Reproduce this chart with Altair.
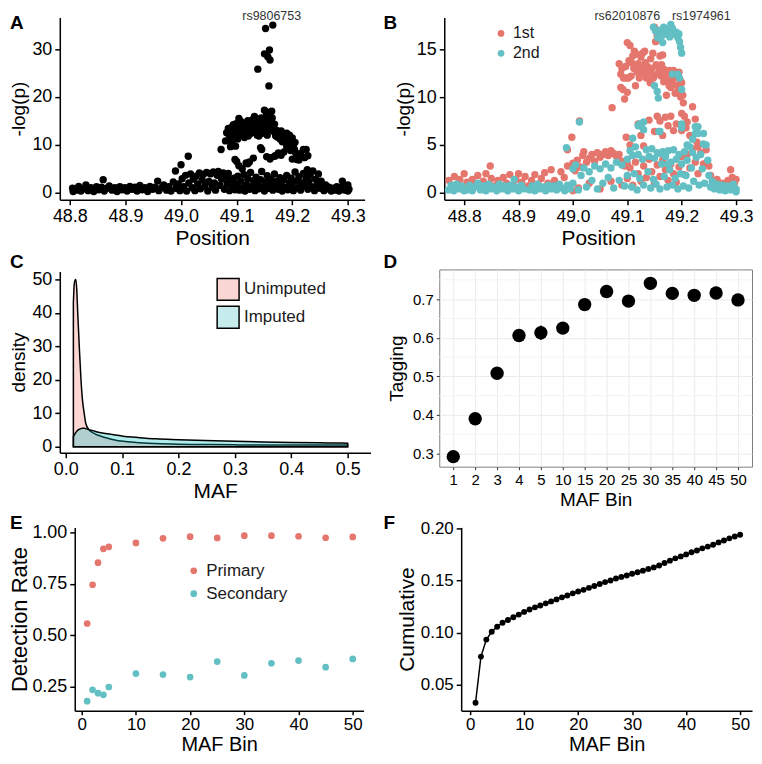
import altair as alt
import pandas as pd

FONT = "Liberation Sans"
RED = "#E5766D"
CYAN = "#62BFC3"

# ---------------- Panel A data: (position, -log(p)) ----------------
a_left = [(48.805,0.9),(48.806,0.2),(48.811,0.5),(48.816,1.3),(48.820,0.3),(48.825,0.8),(48.829,1.6),(48.833,0.4),(48.838,1.0),(48.843,0.2),(48.848,1.2),(48.852,0.6),(48.857,1.1),(48.860,2.7),(48.862,0.3),(48.867,0.9),(48.871,1.4),(48.876,0.5),(48.881,1.0),(48.885,0.2),(48.890,1.2),(48.894,0.6),(48.899,1.0),(48.903,0.3),(48.908,1.3),(48.912,0.7),(48.917,1.1),(48.921,0.3),(48.926,1.5),(48.930,0.6),(48.935,1.0),(48.940,0.2),(48.944,1.3),(48.949,0.7),(48.953,1.1),(48.958,2.4),(48.960,0.4),(48.965,1.0),(48.969,1.6),(48.974,0.5),(48.978,1.2),(48.982,0.3),(48.986,2.2),(48.990,4.5),(48.991,0.9),(48.995,1.8),(48.998,0.4),(49.000,5.8),(49.002,2.9),(49.005,1.2),(49.008,3.6),(49.010,0.3),(49.013,7.6),(49.014,2.0),(49.017,3.9),(49.020,1.0),(49.022,2.8),(49.025,0.4),(49.027,3.4),(49.030,1.8),(49.033,4.1),(49.035,0.8),(49.038,2.6),(49.040,3.8),(49.043,1.4),(49.046,4.2),(49.048,0.3),(49.050,2.3),(49.053,3.9),(49.056,1.1),(49.058,4.3),(49.060,2.0),(49.062,0.5),(49.065,3.6),(49.067,4.4),(49.070,1.5),(49.072,9.0),(49.073,2.8),(49.076,4.1),(49.078,0.7),(49.080,3.3),(49.083,1.9),(49.085,4.0),(49.087,0.4),(49.090,2.6),(49.092,1.2),(49.095,3.0),(49.097,0.6)]
a_right = [(49.100,1.8),(49.102,3.4),(49.105,0.5),(49.108,2.4),(49.110,1.0),(49.113,3.8),(49.115,0.3),(49.118,1.6),(49.120,2.9),(49.123,0.7),(49.125,4.2),(49.128,1.3),(49.130,2.5),(49.133,0.4),(49.135,3.2),(49.138,1.9),(49.140,0.8),(49.143,2.7),(49.145,4.4),(49.148,1.2),(49.150,0.3),(49.152,2.2),(49.155,3.5),(49.158,0.9),(49.160,1.7),(49.162,2.8),(49.165,0.5),(49.168,3.9),(49.170,1.4),(49.172,2.3),(49.175,0.7),(49.178,3.1),(49.180,1.8),(49.182,0.3),(49.185,2.6),(49.188,1.0),(49.190,3.6),(49.192,0.6),(49.195,2.0),(49.198,3.0),(49.200,1.3),(49.202,0.4),(49.205,4.3),(49.207,2.4),(49.210,1.0),(49.212,3.3),(49.215,0.5),(49.217,2.0),(49.220,4.0),(49.222,1.5),(49.225,3.0),(49.227,4.8),(49.228,0.7),(49.230,2.3),(49.232,3.6),(49.235,1.2),(49.237,4.5),(49.240,0.4),(49.242,2.8),(49.245,1.7),(49.247,3.9),(49.250,0.9),(49.252,2.4),(49.255,1.3),(49.257,0.4),(49.260,1.6),(49.263,0.8),(49.266,1.1),(49.270,0.3),(49.273,0.9),(49.277,0.5),(49.280,1.2),(49.284,0.3),(49.288,0.8),(49.290,2.4),(49.291,1.4),(49.295,0.5),(49.298,1.0),(49.300,0.3),(49.300,1.6),(49.302,0.7)]
a_peak = [(49.080,10.8),(49.082,12.5),(49.085,13.4),(49.088,11.0),(49.090,12.8),(49.092,10.3),(49.094,14.2),(49.096,11.7),(49.098,9.7),(49.100,13.0),(49.100,6.5),(49.102,11.2),(49.104,15.5),(49.106,13.8),(49.108,12.0),(49.110,14.6),(49.110,5.0),(49.112,13.2),(49.114,11.5),(49.116,14.0),(49.118,12.8),(49.120,15.0),(49.120,6.0),(49.122,13.5),(49.124,14.5),(49.126,12.4),(49.128,15.2),(49.130,13.6),(49.130,7.2),(49.132,15.9),(49.134,12.9),(49.136,14.8),(49.138,13.3),(49.138,25.8),(49.140,11.8),(49.142,14.2),(49.144,15.6),(49.145,9.0),(49.146,12.4),(49.148,13.9),(49.150,17.2),(49.150,29.0),(49.152,34.3),(49.152,15.3),(49.154,16.3),(49.155,12.0),(49.156,28.4),(49.157,15.0),(49.158,22.3),(49.158,14.0),(49.159,29.8),(49.160,27.7),(49.160,16.8),(49.160,7.0),(49.162,13.2),(49.163,17.0),(49.164,15.6),(49.165,35.0),(49.166,12.8),(49.168,14.3),(49.170,11.9),(49.170,7.7),(49.172,13.0),(49.175,12.5),(49.175,8.3),(49.178,11.2),(49.180,12.9),(49.180,7.8),(49.182,10.6),(49.185,12.2),(49.187,11.7),(49.190,12.4),(49.190,9.6),(49.192,10.8),(49.195,12.0),(49.197,8.8),(49.200,11.4),(49.200,7.0),(49.202,10.0),(49.204,9.0),(49.206,8.3),(49.208,6.9),(49.210,7.5),(49.220,9.0),(49.222,7.3),(49.225,9.0),(49.228,7.7),(49.097,6.9),(49.104,5.6),(49.117,6.2),(49.123,6.4),(49.143,9.4),(49.154,7.5),(49.161,7.3),(49.168,7.6),
(49.087,12.0),(49.091,13.6),(49.095,12.6),(49.099,14.4),(49.103,12.6),(49.107,14.9),(49.111,12.2),(49.115,13.0),(49.119,14.2),(49.121,11.8),(49.125,13.0),(49.129,14.0),(49.133,14.2),(49.137,12.0),(49.141,13.3),(49.145,14.6),(49.149,12.8),(49.153,13.0),(49.157,13.4),(49.161,14.6),(49.165,13.8),(49.169,12.6),(49.173,11.6),(49.177,12.0),(49.181,11.8),(49.186,11.0),(49.191,11.6),(49.196,10.6),(49.201,9.6),(49.205,10.5),(49.089,9.6),(49.093,11.8),(49.185,8.5),(49.212,6.8),(49.215,8.2)]
a_label = ("rs9806753", 49.163, 36.05)

# ---------------- Panel B data ----------------
b_first = [(48.772,1.3),(48.777,0.6),(48.782,1.7),(48.787,0.9),(48.792,1.4),(48.797,0.4),(48.800,2.0),
(48.805,1.1),(48.810,0.5),(48.815,1.4),(48.820,0.8),(48.825,1.8),(48.830,0.6),(48.835,1.2),(48.840,2.0),(48.845,0.9),(48.848,2.8),(48.850,1.5),(48.855,0.7),(48.862,1.3),(48.868,0.6),(48.872,1.6),(48.878,1.0),(48.884,1.9),(48.890,0.8),(48.895,1.4),(48.900,2.0),(48.906,1.1),(48.912,1.7),(48.918,0.7),(48.924,1.3),(48.930,1.9),(48.936,0.9),(48.942,1.5),(48.948,2.1),(48.954,1.0),(48.960,2.4),(48.966,1.3),(48.972,0.7),(48.978,2.2),(48.984,1.6),(48.990,2.8),(48.990,4.5),(48.998,5.8),(49.000,3.1),(49.000,0.2),(49.004,2.3),(49.008,3.4),(49.010,0.5),(49.012,7.5),(49.014,2.7),(49.018,3.9),(49.020,4.3),(49.025,3.2),(49.030,3.6),(49.030,1.0),(49.035,4.0),(49.040,3.3),(49.045,4.2),(49.050,3.7),(49.050,0.4),(49.055,4.0),(49.060,4.3),(49.065,3.9),(49.070,4.4),(49.070,1.2),(49.072,8.9),(49.075,4.1),(49.080,3.8),(49.085,4.0),(49.090,3.3),(49.090,0.8),(49.095,2.8),(49.100,3.0),
(49.085,13.5),(49.088,11.0),(49.090,13.0),(49.092,10.8),(49.095,9.8),(49.098,12.0),(49.100,15.7),(49.100,10.5),(49.103,13.8),(49.105,15.4),(49.107,12.2),(49.110,14.3),(49.112,13.0),(49.115,11.2),(49.117,14.5),(49.120,13.5),(49.122,12.0),(49.125,14.2),(49.127,13.0),(49.130,12.5),(49.132,14.8),(49.135,12.0),(49.137,13.2),(49.140,12.6),(49.142,11.5),(49.145,13.0),(49.147,14.6),(49.150,17.3),(49.150,12.3),(49.152,15.8),(49.155,16.4),(49.157,12.5),(49.160,14.3),(49.162,12.2),(49.165,14.4),(49.167,11.6),(49.170,12.4),(49.172,10.2),(49.175,11.8),(49.178,12.8),(49.180,11.0),(49.182,12.0),(49.185,12.8),(49.188,10.4),(49.190,12.1),(49.192,11.2),(49.195,12.6),(49.198,10.0),(49.200,11.5),(49.200,8.3),(49.203,9.4),(49.205,8.0),(49.208,6.8),(49.210,7.4),(49.215,6.0),(49.220,9.0),(49.225,7.7),(49.228,5.3),(49.230,4.8),
(49.088,12.4),(49.093,12.0),(49.097,13.2),(49.102,12.0),(49.108,13.6),(49.113,14.8),(49.118,12.6),(49.123,13.0),(49.128,14.6),(49.133,13.6),(49.138,12.6),(49.143,14.0),(49.148,12.0),(49.153,13.4),(49.158,13.0),(49.163,13.4),(49.168,12.9),(49.173,12.0),(49.177,11.2),(49.183,11.4),(49.187,12.0),(49.193,10.6),(49.197,11.8),(49.202,10.2),
(49.098,5.8),(49.105,5.0),(49.120,7.2),(49.125,6.0),(49.130,4.9),(49.140,7.6),(49.150,6.4),(49.155,8.0),(49.160,7.5),(49.165,6.0),(49.170,7.9),(49.175,7.0),(49.180,8.0),(49.185,6.5),(49.190,7.2),(49.200,6.5),
(49.100,1.5),(49.105,2.6),(49.110,0.8),(49.115,3.2),(49.120,2.0),(49.125,1.2),(49.130,2.8),(49.135,1.6),(49.140,3.5),(49.145,2.2),(49.150,1.0),(49.155,2.9),(49.160,1.7),(49.165,3.4),(49.170,2.4),(49.175,1.3),(49.180,3.0),(49.185,2.0),(49.190,1.1),(49.195,2.7),(49.200,3.8),(49.205,1.9),(49.210,4.0),(49.215,2.6),(49.220,4.6),(49.225,3.2),(49.230,2.0),(49.235,4.2),(49.240,3.0),(49.245,4.5),(49.250,2.8),(49.253,1.8),(49.257,1.2),(49.260,0.9),(49.265,1.4),(49.270,0.6),(49.275,1.0),(49.280,0.5),(49.285,1.3),(49.290,2.4),(49.293,1.6),(49.297,1.0),(49.300,1.4)]
b_second = [(48.771,0.3),(48.776,0.8),(48.781,0.2),(48.786,0.9),(48.791,0.4),(48.796,0.7),(48.800,0.2),
(48.805,0.3),(48.810,0.8),(48.815,0.2),(48.820,0.6),(48.825,1.0),(48.830,0.3),(48.835,0.7),(48.840,0.2),(48.845,0.9),(48.850,0.4),(48.855,0.6),(48.860,0.2),(48.865,0.9),(48.870,0.4),(48.875,0.7),(48.880,0.2),(48.885,0.8),(48.890,0.4),(48.892,1.4),(48.895,0.6),(48.900,0.2),(48.905,0.8),(48.910,0.4),(48.920,0.3),(48.925,0.7),(48.930,0.2),(48.935,0.9),(48.940,0.4),(48.945,0.6),(48.950,0.2),(48.955,0.8),(48.960,0.4),(48.965,0.7),(48.970,0.3),(48.975,0.9),(48.980,0.5),(48.985,0.2),(48.988,4.7),(48.990,0.8),(48.995,0.4),(49.000,2.5),(49.000,1.0),(49.005,2.9),(49.010,0.3),(49.012,7.4),(49.015,1.8),(49.020,2.6),(49.025,0.6),(49.030,2.2),(49.035,1.3),(49.040,2.8),(49.045,0.4),(49.050,2.5),(49.055,1.0),(49.060,3.0),(49.065,1.6),(49.070,2.6),(49.075,0.5),(49.080,3.2),(49.085,1.3),(49.090,2.9),(49.095,0.7),(49.100,3.5),(49.100,1.8),
(49.105,4.4),(49.108,0.6),(49.110,3.9),(49.110,5.7),(49.113,2.0),(49.115,4.8),(49.118,0.3),(49.120,4.0),(49.123,1.5),(49.125,7.0),(49.128,3.5),(49.130,7.4),(49.130,0.8),(49.135,4.5),(49.138,2.2),(49.140,3.8),(49.143,0.5),(49.145,4.6),(49.148,1.4),(49.150,3.6),(49.153,0.9),(49.155,4.2),(49.158,6.4),(49.160,0.4),(49.163,3.0),(49.165,4.3),(49.168,1.7),(49.170,3.8),(49.173,0.6),(49.175,4.4),(49.178,2.4),(49.180,3.2),(49.183,0.8),(49.185,4.5),(49.188,1.5),(49.190,3.5),(49.193,0.4),(49.195,4.0),(49.198,2.0),(49.200,7.2),(49.200,3.0),(49.203,0.7),(49.205,4.3),(49.208,1.8),(49.210,3.4),(49.213,0.5),(49.215,4.8),(49.218,2.6),(49.220,4.2),(49.222,1.2),(49.225,6.2),(49.227,3.7),(49.230,6.9),(49.232,0.8),(49.235,4.0),(49.238,2.5),(49.240,6.2),(49.242,1.0),(49.245,5.0),(49.248,3.4),(49.250,1.8),(49.253,0.6),(49.256,1.2),(49.260,0.4),(49.265,0.9),(49.270,0.3),(49.275,0.8),(49.280,0.2),(49.285,0.7),(49.290,0.3),(49.295,0.9),(49.300,0.4),(49.300,0.1),
(49.148,17.3),(49.152,16.9),(49.156,16.2),(49.160,17.0),(49.163,16.4),(49.167,17.3),(49.170,16.6),(49.173,16.9),(49.176,17.1),(49.180,17.6),(49.183,17.2),(49.186,16.6),(49.190,16.8),(49.193,16.2),(49.196,15.8),(49.198,15.2),(49.200,14.6),(49.195,16.6),(49.165,15.7),(49.178,16.3),
(49.150,11.2),(49.155,10.6),(49.157,9.9),(49.183,12.4),(49.193,12.4),(49.200,10.8),(49.196,12.0),(49.120,7.0),(49.123,7.2),(49.130,6.6),(49.160,6.4),(49.200,6.8),(49.225,6.9),(49.230,6.2),(49.240,5.1),(49.160,4.1),(49.170,3.8),(49.175,3.0),(49.210,5.0),(49.220,5.6)]
b_labels = [("rs62010876", 49.100, 18.07), ("rs1974961", 49.236, 18.07)]

# ---------------- Panel C data: density curves ----------------
c_maf = [0.0135, 0.015, 0.0165, 0.018, 0.0195, 0.021, 0.024, 0.0267, 0.0296, 0.0326, 0.0354, 0.041, 0.048, 0.056, 0.065, 0.073, 0.085, 0.102, 0.125, 0.16, 0.2, 0.247, 0.3, 0.35, 0.4, 0.45, 0.49, 0.5]
c_unimputed = [43.0, 48.5, 49.8, 50.0, 47.0, 40.8, 29.9, 20.9, 14.0, 10.1, 7.0, 5.1, 4.2, 3.5, 3.0, 2.6, 2.1, 1.6, 1.25, 0.95, 0.75, 0.65, 0.55, 0.5, 0.5, 0.5, 0.5, 0.5]
c_imputed = [3.0, 3.5, 3.9, 4.3, 4.6, 4.9, 5.2, 5.4, 5.5, 5.5, 5.4, 5.1, 4.8, 4.4, 4.1, 3.9, 3.6, 3.15, 2.8, 2.35, 2.1, 1.85, 1.6, 1.4, 1.25, 1.15, 1.1, 1.05]
c_groups = ["Unimputed", "Imputed"]

# ---------------- Panel D data ----------------
d_bins = ["1", "2", "3", "4", "5", "10", "15", "20", "25", "30", "35", "40", "45", "50"]
d_tag = [0.292, 0.390, 0.508, 0.606, 0.613, 0.625, 0.686, 0.720, 0.695, 0.741, 0.715, 0.710, 0.716, 0.698]
d_lo = [0.287, 0.384, 0.502, 0.598, 0.594, 0.617, 0.680, 0.714, 0.689, 0.735, 0.709, 0.704, 0.710, 0.692]
d_hi = [0.297, 0.396, 0.514, 0.614, 0.632, 0.633, 0.692, 0.726, 0.701, 0.747, 0.721, 0.716, 0.722, 0.704]
d_minor = [0.35, 0.45, 0.55, 0.65, 0.75]

# ---------------- Panel E data ----------------
e_bins = [1, 2, 3, 4, 5, 10, 15, 20, 25, 30, 35, 40, 45, 50]
e_primary = [0.558, 0.746, 0.853, 0.920, 0.930, 0.949, 0.971, 0.979, 0.973, 0.984, 0.984, 0.981, 0.974, 0.978]
e_secondary = [0.181, 0.236, 0.220, 0.212, 0.250, 0.315, 0.310, 0.298, 0.373, 0.306, 0.365, 0.378, 0.346, 0.386]

# ---------------- Panel F data ----------------
f_bins = [1, 2, 3, 4, 5, 6, 7, 8, 9, 10, 11, 12, 13, 14, 15, 16, 17, 18, 19, 20, 21, 22, 23, 24, 25,
          26, 27, 28, 29, 30, 31, 32, 33, 34, 35, 36, 37, 38, 39, 40, 41, 42, 43, 44, 45, 46, 47, 48, 49, 50]
f_cum = [0.0328, 0.0771, 0.0934, 0.1010, 0.1057, 0.1096, 0.1122, 0.1149, 0.1174, 0.1200,
         0.1223, 0.1244, 0.1262, 0.1282, 0.1301, 0.1320, 0.1340, 0.1358, 0.1378, 0.1396,
         0.1412, 0.1431, 0.1449, 0.1468, 0.1486, 0.1502, 0.1520, 0.1536, 0.1550, 0.1566,
         0.1580, 0.1596, 0.1612, 0.1627, 0.1646, 0.1670, 0.1692, 0.1714, 0.1733, 0.1752,
         0.1772, 0.1790, 0.1810, 0.1827, 0.1845, 0.1867, 0.1886, 0.1906, 0.1924, 0.1940]


def ax(title, values, fmt, lab, tit, lpad=3, tpad=4, tick=5, **kw):
    return alt.Axis(title=title, values=values, format=fmt, labelFont=FONT, labelFontSize=lab,
                    labelColor="black", titleFont=FONT, titleFontSize=tit, titleFontWeight="normal",
                    titleColor="black", domainColor="black", domainWidth=1.5, tickColor="black",
                    tickWidth=1.5, tickSize=tick, grid=False, labelPadding=lpad, titlePadding=tpad,
                    labelFlush=False, labelOverlap=False, **kw)


def letter(ch, dx, dy):
    return alt.Chart(pd.DataFrame({"t": [ch]})).mark_text(
        align="left", baseline="top", font=FONT, fontSize=19, fontWeight="bold", color="black"
    ).encode(x=alt.value(dx), y=alt.value(dy), text="t:N")


def leg(x, y, size, font, stype, **kw):
    return alt.Legend(title=None, orient="none", legendX=x, legendY=y, labelFont=FONT,
                      labelFontSize=font, labelColor="#1a1a1a", symbolType=stype, symbolSize=size,
                      labelOffset=4, **kw)


# ---------------- Panel A ----------------
dfA = pd.DataFrame(a_left + a_right + a_peak, columns=["pos", "logp"])
xA = alt.X("pos:Q", scale=alt.Scale(domain=[48.782, 49.330], nice=False, zero=False),
           axis=ax("Position", [48.8, 48.9, 49.0, 49.1, 49.2, 49.3], ".1f", 18, 21, 3, 2))
yA = alt.Y("logp:Q", scale=alt.Scale(domain=[-1.5, 36.6], nice=False, zero=False),
           axis=ax("-log(p)", [0, 10, 20, 30], "d", 18, 19, 3, 3))
ptsA = alt.Chart(dfA).mark_circle(size=55, color="black", opacity=1).encode(x=xA, y=yA)
labA = alt.Chart(pd.DataFrame([a_label], columns=["lab", "pos", "logp"])).mark_text(
    font=FONT, fontSize=12.5, color="#333333", baseline="alphabetic").encode(
    x="pos:Q", y="logp:Q", text="lab:N")
A = alt.layer(ptsA, labA, letter("A", -50, -3)).properties(width=306, height=183)

# ---------------- Panel B ----------------
dfB = pd.DataFrame([(p, v, "1st") for p, v in b_first] + [(p, v, "2nd") for p, v in b_second],
                   columns=["pos", "logp", "grp"])
xB = alt.X("pos:Q", scale=alt.Scale(domain=[48.7634, 49.3293], nice=False, zero=False, range=[5, 314]),
           axis=ax("Position", [48.8, 48.9, 49.0, 49.1, 49.2, 49.3], ".1f", 17.5, 21, 3, 2))
yB = alt.Y("logp:Q", scale=alt.Scale(domain=[-0.73, 18.33], nice=False, zero=False),
           axis=ax("-log(p)", [0, 5, 10, 15], "d", 18, 19, 3, 3, offset=-5))
ptsB = alt.Chart(dfB).mark_circle(size=55, opacity=1).encode(
    x=xB, y=yB,
    color=alt.Color("grp:N", scale=alt.Scale(domain=["1st", "2nd"], range=[RED, CYAN]),
                    legend=leg(54, 8, 45, 16, "circle", rowPadding=4)))
labB = alt.Chart(pd.DataFrame(b_labels, columns=["lab", "pos", "logp"])).mark_text(
    font=FONT, fontSize=12.5, color="#333333", baseline="alphabetic").encode(
    x="pos:Q", y="logp:Q", text="lab:N")
B = alt.layer(ptsB, labB, letter("B", -56, -3)).properties(width=314, height=183)

# ---------------- Panel C ----------------
xC = alt.X("maf:Q", scale=alt.Scale(domain=[-0.0106, 0.5406], nice=False, zero=False),
           axis=ax("MAF", [0, 0.1, 0.2, 0.3, 0.4, 0.5], ".1f", 18, 21, 3, 2))
yC = alt.Y("density:Q", stack=None,
           scale=alt.Scale(domain=[-1.8, 52.4], nice=False, zero=False, range=[184, 2]),
           axis=ax("density", [0, 10, 20, 30, 40, 50], "d", 18, 19, 3, 3))
dfCu = pd.DataFrame({"maf": c_maf, "density": c_unimputed})
dfCi = pd.DataFrame({"maf": c_maf, "density": c_imputed})
areaU = alt.Chart(dfCu).mark_area(interpolate="monotone", fill="#F8766D", fillOpacity=0.3,
                                  stroke="black", strokeWidth=1.5).encode(x=xC, y=yC)
areaI = alt.Chart(dfCi).mark_area(interpolate="monotone", fill="#00BFC4", fillOpacity=0.3,
                                  stroke="black", strokeWidth=1.5).encode(x=xC, y=yC)
dfLeg = pd.DataFrame({"grp": pd.Series([], dtype=str), "maf": pd.Series([], dtype=float),
                      "density": pd.Series([], dtype=float)})
legC = alt.Chart(dfLeg).mark_square(opacity=1, stroke="black", strokeWidth=1.5).encode(
    x=xC, y=yC,
    fill=alt.Fill("grp:N", scale=alt.Scale(domain=c_groups, range=["#F9D6D3", "#C6EBEC"]),
                  legend=leg(157, 8, 484, 17, "square", symbolStrokeColor="black",
                             symbolStrokeWidth=1.5, rowPadding=0)))
C = alt.layer(areaU, areaI, legC, letter("C", -50, -16)).properties(width=312, height=184)

# ---------------- Panel D ----------------
dfD = pd.DataFrame({"bin": d_bins, "tag": d_tag, "lo": d_lo, "hi": d_hi})
d_axis_common = dict(labelFont=FONT, labelColor="black", titleFont=FONT, titleFontWeight="normal",
                     titleColor="black", domain=False, tickColor="#333333", tickSize=3, tickWidth=1,
                     grid=True, gridColor="#EBEBEB", gridWidth=1, labelOverlap=False)
xD = alt.X("bin:O", sort=d_bins, scale=alt.Scale(type="point", padding=0.64),
           axis=alt.Axis(title="MAF Bin", labelAngle=0, labelFontSize=15, titleFontSize=19,
                         labelPadding=3, titlePadding=3, **d_axis_common))
yD = alt.Y("tag:Q", scale=alt.Scale(domain=[0.266, 0.777], nice=False, zero=False),
           axis=alt.Axis(title="Tagging", values=[0.3, 0.4, 0.5, 0.6, 0.7], format=".1f",
                         labelFontSize=15, titleFontSize=19, labelPadding=3, titlePadding=6,
                         **d_axis_common))
minorD = alt.Chart(pd.DataFrame({"tag": d_minor})).mark_rule(color="#F3F3F3", strokeWidth=1).encode(
    y=alt.Y("tag:Q", title="Tagging"))
errD = alt.Chart(dfD).mark_rule(color="black", strokeWidth=1.5).encode(
    x=xD, y=alt.Y("lo:Q", title="Tagging"), y2="hi:Q")
ptsD = alt.Chart(dfD).mark_circle(size=180, color="black", opacity=1).encode(x=xD, y=yD)
D = alt.layer(minorD, errD, ptsD, letter("D", -56, -16)).properties(
    width=314, height=198, view=alt.ViewBackground(stroke="#7F7F7F", strokeWidth=1))

# ---------------- Panel E ----------------
dfE = pd.DataFrame({"bin": e_bins * 2, "rate": e_primary + e_secondary,
                    "grp": ["Primary"] * len(e_bins) + ["Secondary"] * len(e_bins)})
ptsE = alt.Chart(dfE).mark_circle(size=45, opacity=1).encode(
    x=alt.X("bin:Q", scale=alt.Scale(domain=[-1.29, 52.0], nice=False, zero=False, range=[15, 305]),
            axis=ax("MAF Bin", [0, 10, 20, 30, 40, 50], "d", 17, 20, 2, 2, tick=4)),
    y=alt.Y("rate:Q", scale=alt.Scale(domain=[0.135, 1.024], nice=False, zero=False),
            axis=ax("Detection Rate", [0.25, 0.5, 0.75, 1.0], ".2f", 18, 22, 3, 0, offset=-15)),
    color=alt.Color("grp:N", scale=alt.Scale(domain=["Primary", "Secondary"], range=[RED, CYAN]),
                    legend=leg(126, 35, 45, 17, "circle", rowPadding=5)))
E = alt.layer(ptsE, letter("E", -50, -13)).properties(width=305, height=184)

# ---------------- Panel F ----------------
dfF = pd.DataFrame({"bin": f_bins, "cum": f_cum})
xF = alt.X("bin:Q", scale=alt.Scale(domain=[-1.66, 52.2], nice=False, zero=False, range=[22, 314]),
           axis=ax("MAF Bin", [0, 10, 20, 30, 40, 50], "d", 17, 20, 2, 2, tick=4))
yF = alt.Y("cum:Q", scale=alt.Scale(domain=[0.0252, 0.2011], nice=False, zero=False),
           axis=ax("Cumulative", [0.05, 0.10, 0.15, 0.20], ".2f", 17, 21, 3, 3, offset=-22))
lineF = alt.Chart(dfF).mark_line(color="black", strokeWidth=1.5).encode(x=xF, y=yF)
ptsF = alt.Chart(dfF).mark_circle(size=35, color="black", opacity=1).encode(x=xF, y=yF)
F = alt.layer(lineF, ptsF, letter("F", -56, -13)).properties(width=314, height=184)

chart = alt.concat(A, B, C, D, E, F, columns=2, spacing={"row": 4, "column": 12},
                   align="each", bounds="full").properties(
    padding=0, background="white").configure_view(stroke=None).resolve_scale(
    color="independent", fill="independent")

chart.save("out.html", embed_options={"renderer": "svg", "actions": False})
